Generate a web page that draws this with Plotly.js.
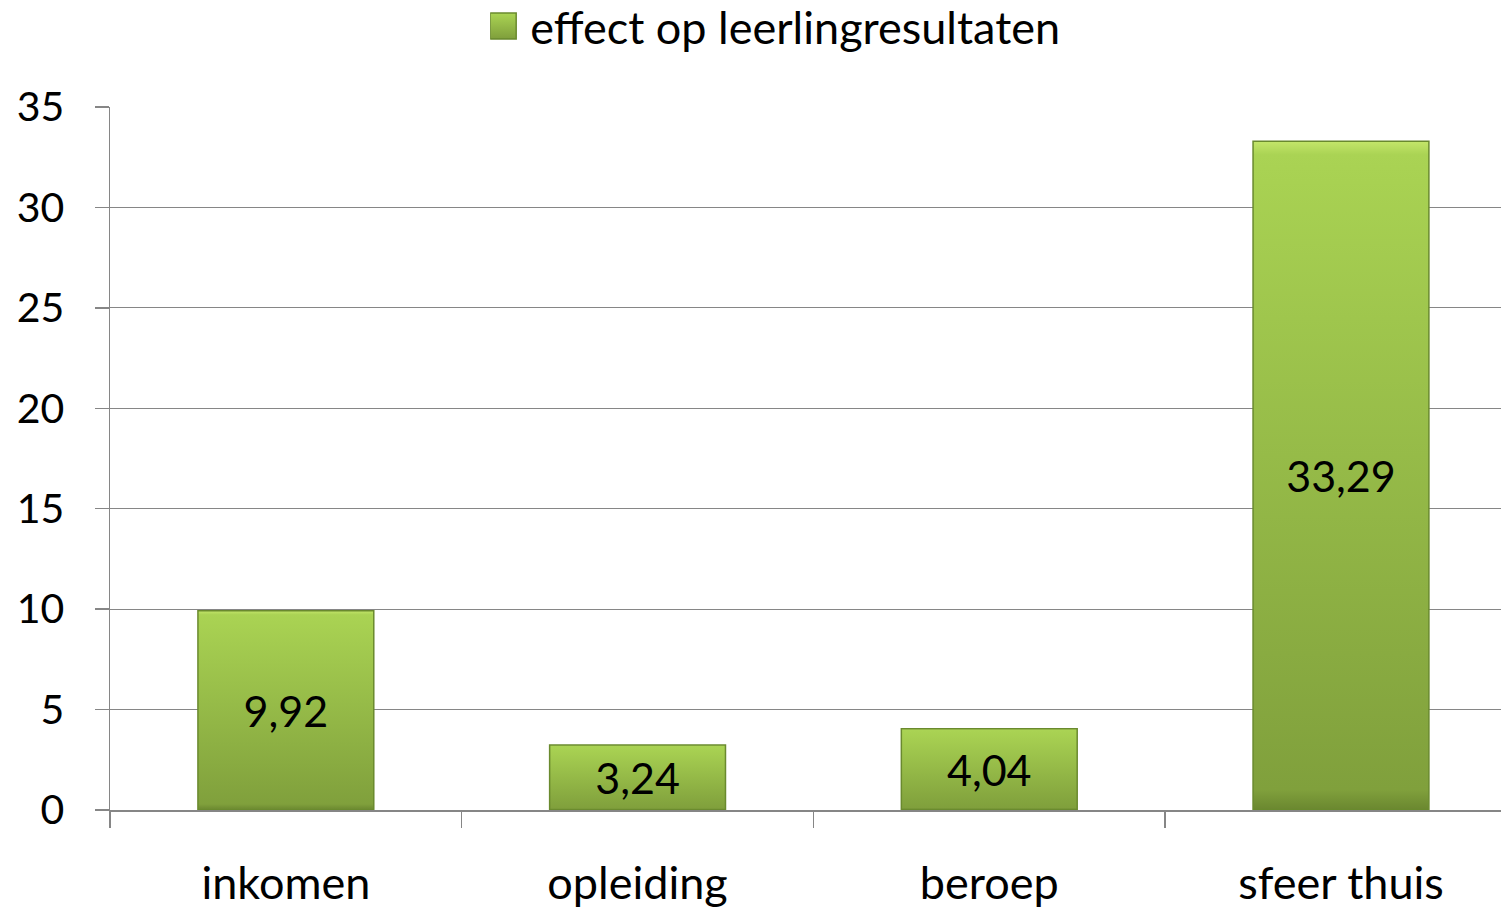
<!DOCTYPE html>
<html>
<head>
<meta charset="utf-8">
<script src="https://cdn.plot.ly/plotly-3.0.1.min.js"></script>
<style>html,body{margin:0;padding:0;background:#fff;overflow:hidden}#chart{width:1501px;height:911px}</style>
</head>
<body>
<div id="chart"></div>
<script>
var categories = ["inkomen", "opleiding", "beroep", "sfeer thuis"];
var values = [9.92, 3.24, 4.04, 33.29];
var seriesName = "effect op leerlingresultaten";
var yTicks = [0, 5, 10, 15, 20, 25, 30, 35];

var FONT = "Lato, 'Open Sans', sans-serif";
var trace = {
  type: "bar",
  x: categories,
  y: values,
  name: seriesName,
  marker: {color: "#97bb48", line: {color: "#6a8a2e", width: 1.5}},
  texttemplate: "%{y:.2f}",
  textposition: "inside",
  insidetextanchor: "middle",
  constraintext: "none",
  textfont: {family: FONT, size: 43, color: "#000"},
  hoverinfo: "skip",
  showlegend: true
};
var layout = {
  width: 1501, height: 911,
  margin: {l: 110, r: 0, t: 107, b: 101, autoexpand: false},
  paper_bgcolor: "#fff", plot_bgcolor: "#fff",
  separators: ",.",
  bargap: 0.5,
  font: {family: FONT, size: 44, color: "#000"},
  showlegend: true,
  legend: {orientation: "h", x: 0.48, xanchor: "center", y: 1.166, yref: "paper", yanchor: "top",
           font: {family: FONT, size: 45, color: "#000"}, itemwidth: 30, bgcolor: "rgba(0,0,0,0)"},
  xaxis: {
    type: "category", range: [-0.5, 3.455], automargin: false,
    showline: true, linecolor: "#868686", linewidth: 1.5,
    ticks: "outside", tickson: "boundaries", ticklen: 16, tickcolor: "#868686", tickwidth: 1.5,
    ticklabelstandoff: 33,
    showgrid: false, fixedrange: true,
    tickfont: {family: FONT, size: 45, color: "#000"}
  },
  yaxis: {
    range: [0, 35], tickvals: yTicks, ticktext: yTicks.map(String), automargin: false,
    showline: true, linecolor: "#868686", linewidth: 1.5,
    showgrid: true, gridcolor: "#868686", gridwidth: 1,
    zeroline: false,
    ticks: "outside", ticklen: 14, tickcolor: "#868686", tickwidth: 1.5,
    ticklabelstandoff: 22, fixedrange: true,
    tickfont: {family: FONT, size: 41, color: "#000"}
  }
};
Plotly.newPlot("chart", [trace], layout, {staticPlot: true, displayModeBar: false}).then(function (gd) {
  var ns = "http://www.w3.org/2000/svg";
  var svg = gd.querySelector(".main-svg");
  var defs = svg.querySelector("defs");
  if (!defs) { defs = document.createElementNS(ns, "defs"); svg.insertBefore(defs, svg.firstChild); }
  var g = document.createElementNS(ns, "linearGradient");
  g.setAttribute("id", "barGrad");
  g.setAttribute("x1", "0"); g.setAttribute("y1", "0"); g.setAttribute("x2", "0"); g.setAttribute("y2", "1");
  [["0", "#c4e66a"], ["0.02", "#aad354"], ["0.06", "#a8d152"], ["0.97", "#80a03c"], ["1", "#6a872f"]].forEach(function (s) {
    var st = document.createElementNS(ns, "stop");
    st.setAttribute("offset", s[0]); st.setAttribute("stop-color", s[1]);
    g.appendChild(st);
  });
  defs.appendChild(g);
  gd.querySelectorAll(".bars .point path").forEach(function (p) { p.style.fill = "url(#barGrad)"; });
  gd.querySelectorAll(".legendpoints path").forEach(function (p) {
    p.setAttribute("d", "M-20,-13H6V13H-20Z");
    p.style.fill = "url(#barGrad)";
  });
});
</script>
</body>
</html>
